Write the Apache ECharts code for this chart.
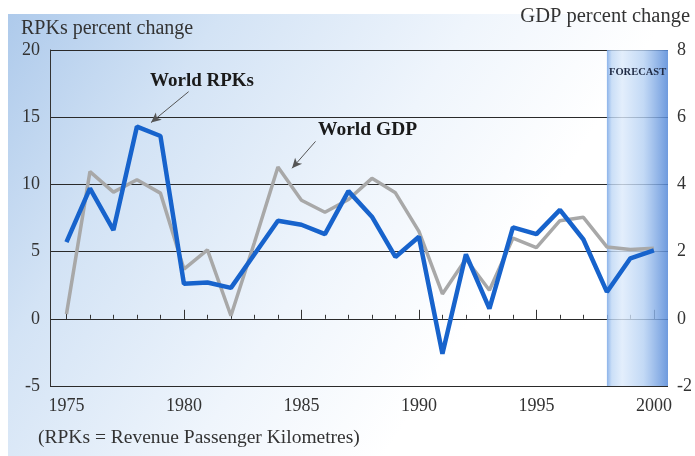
<!DOCTYPE html>
<html>
<head>
<meta charset="utf-8">
<script src="https://cdn.jsdelivr.net/npm/echarts@6/dist/echarts.min.js"></script>
<style>html,body{margin:0;padding:0;background:#fff}#c{width:695px;height:456px}</style>
</head>
<body>
<div id="c"></div>
<script>
const years = [1975,1976,1977,1978,1979,1980,1981,1982,1983,1984,1985,1986,1987,1988,1989,1990,1991,1992,1993,1994,1995,1996,1997,1998,1999,2000];
const rpkChange = [5.7,9.7,6.6,14.3,13.6,2.6,2.7,2.3,4.8,7.3,7.0,6.3,9.5,7.6,4.6,6.1,-2.6,4.8,0.75,6.8,6.3,8.1,5.9,2.0,4.5,5.1];
const gdpChange = [0.14,4.38,3.77,4.14,3.74,1.48,2.05,0.09,2.27,4.52,3.53,3.17,3.55,4.18,3.75,2.6,0.74,1.78,0.85,2.4,2.12,2.92,3.02,2.14,2.06,2.1];
const xTickLabels = [1975,1980,1985,1990,1995,2000];
const forecastStart = 1998;

const serif = '"Liberation Serif","DejaVu Serif",serif';
const txt = '#333';
const chart = echarts.init(document.getElementById('c'), null, {renderer:'canvas'});

const xMin = 1974.3, xMax = 2000.6;
const baseX = {
  type:'value', min:xMin, max:xMax, gridIndex:0,
  axisLine:{show:false}, splitLine:{show:false}
};

chart.setOption({
  backgroundColor:'#ffffff',
  animation:false,
  grid:{left:50, right:27, top:50, bottom:70},
  graphic:[
    {type:'rect', z:-100, silent:true, shape:{x:8,y:14,width:687,height:442},
     style:{fill:{type:'linear',x:0,y:0,x2:1,y2:1,colorStops:[
       {offset:0,color:'#aecaeb'},{offset:0.22,color:'#d3e3f5'},{offset:0.48,color:'#eff5fc'},{offset:0.68,color:'#ffffff'},{offset:1,color:'#ffffff'}]}}},
    {type:'text', z:100, left:21, top:19, style:{text:'RPKs percent change', font:'20px '+serif, fill:txt}},
    {type:'text', z:100, right:5, top:6, style:{text:'GDP percent change', font:'20.5px '+serif, fill:txt}},
    {type:'text', z:100, left:38, top:428, style:{text:'(RPKs = Revenue Passenger Kilometres)', font:'19.5px '+serif, fill:txt}},
    {type:'text', z:100, left:150, top:72, style:{text:'World RPKs', font:'bold 19px '+serif, fill:'#1a1a1a'}},
    {type:'text', z:100, left:318, top:120, style:{text:'World GDP', font:'bold 19.5px '+serif, fill:'#1a1a1a'}},
    {type:'text', z:100, left:609, top:67, style:{text:'FORECAST', font:'bold 10.5px '+serif, fill:'#1f2a44'}}
  ],
  xAxis:[
    Object.assign({}, baseX, {
      axisTick:{show:true, inside:true, length:4, lineStyle:{color:'#333'}, customValues:years},
      axisLabel:{show:true, margin:11, fontFamily:serif, fontSize:18, color:txt, customValues:xTickLabels, formatter:v=>String(v)}
    }),
    Object.assign({}, baseX, {
      position:'bottom',
      axisTick:{show:true, inside:true, length:9, lineStyle:{color:'#333'}, customValues:xTickLabels},
      axisLabel:{show:false}
    })
  ],
  yAxis:[
    {type:'value', min:-5, max:20, interval:5, position:'left',
     axisLine:{show:true, lineStyle:{color:'#333', width:1}}, axisTick:{show:false},
     axisLabel:{margin:10, fontFamily:serif, fontSize:18, color:txt},
     splitLine:{show:true, lineStyle:{color:'#2a2a2a', width:1}}},
    {type:'value', min:-2, max:8, interval:2, position:'right',
     axisLine:{show:false}, axisTick:{show:false},
     axisLabel:{margin:9, fontFamily:serif, fontSize:18, color:txt, formatter:v=>String(v)},
     splitLine:{show:false}}
  ],
  series:[
    {type:'line', name:'band', data:[], xAxisIndex:0, yAxisIndex:0, z:1, silent:true,
     markArea:{silent:true, itemStyle:{color:{type:'linear',x:0,y:0,x2:1,y2:0,colorStops:[
       {offset:0,color:'rgba(120,166,230,0.85)'},{offset:0.08,color:'rgba(190,215,245,0.8)'},{offset:0.25,color:'rgba(220,234,251,0.8)'},{offset:0.6,color:'rgba(180,208,243,0.8)'},{offset:1,color:'rgba(85,137,216,0.85)'}]}},
       data:[[{xAxis:forecastStart},{xAxis:xMax}]]}},
    {type:'line', name:'World GDP', xAxisIndex:0, yAxisIndex:1, z:3,
     data:years.map((y,i)=>[y,gdpChange[i]]), showSymbol:false,
     lineStyle:{color:'#a8a8a8', width:3.5}},
    {type:'line', name:'World RPKs', xAxisIndex:0, yAxisIndex:0, z:4,
     data:years.map((y,i)=>[y,rpkChange[i]]), showSymbol:false,
     lineStyle:{color:'#1763cc', width:4.5},
     markLine:{silent:true, symbol:['none','arrow'], symbolSize:[7,10], label:{show:false},
       lineStyle:{color:'#555', width:1, type:'solid'},
       data:[
         [{coord:[1980.2,16.9]},{coord:[1978.6,14.6]}],
         [{coord:[1985.6,13.2]},{coord:[1984.6,11.2]}]
       ]}}
  ]
});
</script>
</body>
</html>
